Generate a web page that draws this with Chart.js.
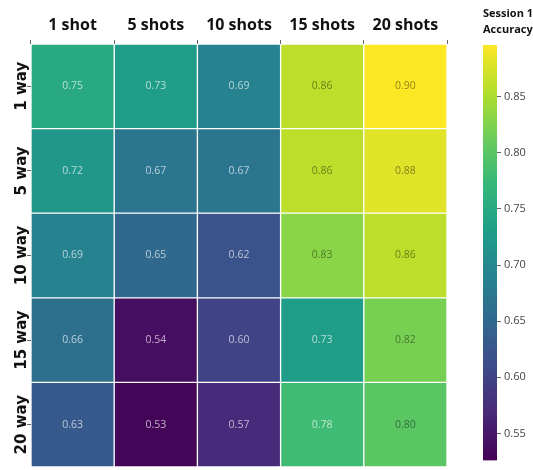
<!DOCTYPE html>
<html>
<head>
<meta charset="utf-8">
<script src="https://cdn.jsdelivr.net/npm/chart.js@4.4.1/dist/chart.umd.min.js"></script>
<style>
  html, body { margin: 0; padding: 0; background: #fff; }
  #wrap { position: relative; width: 533px; height: 470px; }
  #heat { position: absolute; left: 0; top: 0; }
  #bar { position: absolute; left: 440px; top: 0; }
</style>
</head>
<body>
<div id="wrap">
  <canvas id="heat" width="450" height="470"></canvas>
  <canvas id="bar" width="93" height="470"></canvas>
</div>
<script>
// shots per class (columns) and ways (rows)
const shotLabels = ["1 shot", "5 shots", "10 shots", "15 shots", "20 shots"];
const wayLabels = ["1 way", "5 way", "10 way", "15 way", "20 way"];

// session 1 accuracy, one array per row
const acc1Way = [0.75, 0.73, 0.69, 0.86, 0.90];
const acc5Way = [0.72, 0.67, 0.67, 0.86, 0.88];
const acc10Way = [0.69, 0.65, 0.62, 0.83, 0.86];
const acc15Way = [0.66, 0.54, 0.60, 0.73, 0.82];
const acc20Way = [0.63, 0.53, 0.57, 0.78, 0.80];
const accRows = [acc1Way, acc5Way, acc10Way, acc15Way, acc20Way];

// colour scale limits and colorbar ticks
const colorMin = 0.526;
const colorMax = 0.896;
const colorbarTicks = [0.55, 0.60, 0.65, 0.70, 0.75, 0.80, 0.85];

const viridis = ["#440154", "#482878", "#3e4a89", "#31688e", "#26828e",
                 "#1f9e89", "#35b779", "#6dcd59", "#b4de2c", "#fde725"];

function hexToRgb(h) {
  return [1, 3, 5].map(i => parseInt(h.slice(i, i + 2), 16));
}

function colorFor(v) {
  let t = (v - colorMin) / (colorMax - colorMin);
  t = Math.min(1, Math.max(0, t));
  const pos = t * (viridis.length - 1);
  const i = Math.min(viridis.length - 2, Math.floor(pos));
  const f = pos - i;
  const a = hexToRgb(viridis[i]), b = hexToRgb(viridis[i + 1]);
  const c = a.map((x, k) => Math.round(x + (b[k] - x) * f));
  return `rgb(${c[0]},${c[1]},${c[2]})`;
}

Chart.defaults.font.family = "'Open Sans', sans-serif";

// writes the accuracy value in the middle of every cell
const cellText = {
  id: "cellText",
  afterDatasetsDraw(chart) {
    const ctx = chart.ctx;
    ctx.save();
    ctx.font = "10.5px 'Open Sans', sans-serif";
    ctx.textAlign = "center";
    ctx.textBaseline = "middle";
    chart.data.datasets.forEach((ds, di) => {
      chart.getDatasetMeta(di).data.forEach((bar, i) => {
        const v = ds.acc[i];
        ctx.fillStyle = v > 0.79 ? "rgba(0,0,0,0.45)" : "rgba(255,255,255,0.65)";
        ctx.fillText(v.toFixed(2), bar.x, (bar.y + bar.base) / 2);
      });
    });
    ctx.restore();
  }
};

new Chart(document.getElementById("heat"), {
  type: "bar",
  data: {
    labels: shotLabels,
    datasets: accRows.map((row, r) => ({
      label: wayLabels[r],
      acc: row,
      data: row.map(() => [r, r + 1]),
      backgroundColor: row.map(colorFor),
      borderColor: "rgba(255,255,255,0.5)",
      borderWidth: 1,
      borderSkipped: false,
      barPercentage: 1,
      categoryPercentage: 1,
      grouped: false
    }))
  },
  options: {
    responsive: false,
    animation: false,
    layout: { padding: { right: 3, bottom: 3 } },
    plugins: { legend: { display: false }, tooltip: { enabled: false } },
    scales: {
      x: {
        position: "top",
        grid: { drawOnChartArea: false, tickLength: 4, color: "#666" },
        border: { display: false },
        ticks: {
          padding: 5,
          color: "#111",
          font: { size: 16, weight: "bold" }
        },
        afterFit(s) { s.height = 44; }
      },
      y: {
        min: 0,
        max: 5,
        reverse: true,
        grid: { drawOnChartArea: false, tickLength: 4, color: "#666" },
        border: { display: false },
        afterBuildTicks(s) {
          s.ticks = wayLabels.map((_, i) => ({ value: i + 0.5 }));
        },
        ticks: {
          callback: (v, i) => wayLabels[i],
          minRotation: 90,
          maxRotation: 90,
          crossAlign: "center",
          padding: -25,
          color: "#111",
          font: { family: "'DejaVu Sans', sans-serif", size: 15, weight: "bold" }
        },
        afterFit(s) { s.width = 31; }
      }
    }
  },
  plugins: [cellText]
});

// colorbar
new Chart(document.getElementById("bar"), {
  type: "bar",
  data: {
    labels: [""],
    datasets: [{
      data: [[colorMin, colorMax]],
      backgroundColor(c) {
        const area = c.chart.chartArea;
        if (!area) return null;
        const g = c.chart.ctx.createLinearGradient(0, area.bottom, 0, area.top);
        viridis.forEach((col, i) => g.addColorStop(i / (viridis.length - 1), col));
        return g;
      },
      barPercentage: 1,
      categoryPercentage: 1
    }]
  },
  options: {
    responsive: false,
    animation: false,
    layout: { padding: { left: 43, bottom: 3 } },
    plugins: {
      legend: { display: false },
      tooltip: { enabled: false },
      title: {
        display: true,
        text: ["Session 1", "Accuracy"],
        align: "start",
        color: "#111",
        font: { size: 11, weight: "bold", lineHeight: 1.45 },
        padding: { top: 6, bottom: 7 }
      }
    },
    scales: {
      x: { display: false },
      y: {
        position: "right",
        min: colorMin,
        max: colorMax,
        grid: { drawOnChartArea: false, tickLength: 4, color: "#666" },
        border: { display: false },
        afterBuildTicks(s) {
          s.ticks = colorbarTicks.map(v => ({ value: v }));
        },
        ticks: {
          callback: v => v.toFixed(2),
          padding: 3,
          color: "#444",
          font: { size: 11 }
        },
        afterFit(s) { s.width = 36; }
      }
    }
  }
});
</script>
</body>
</html>
